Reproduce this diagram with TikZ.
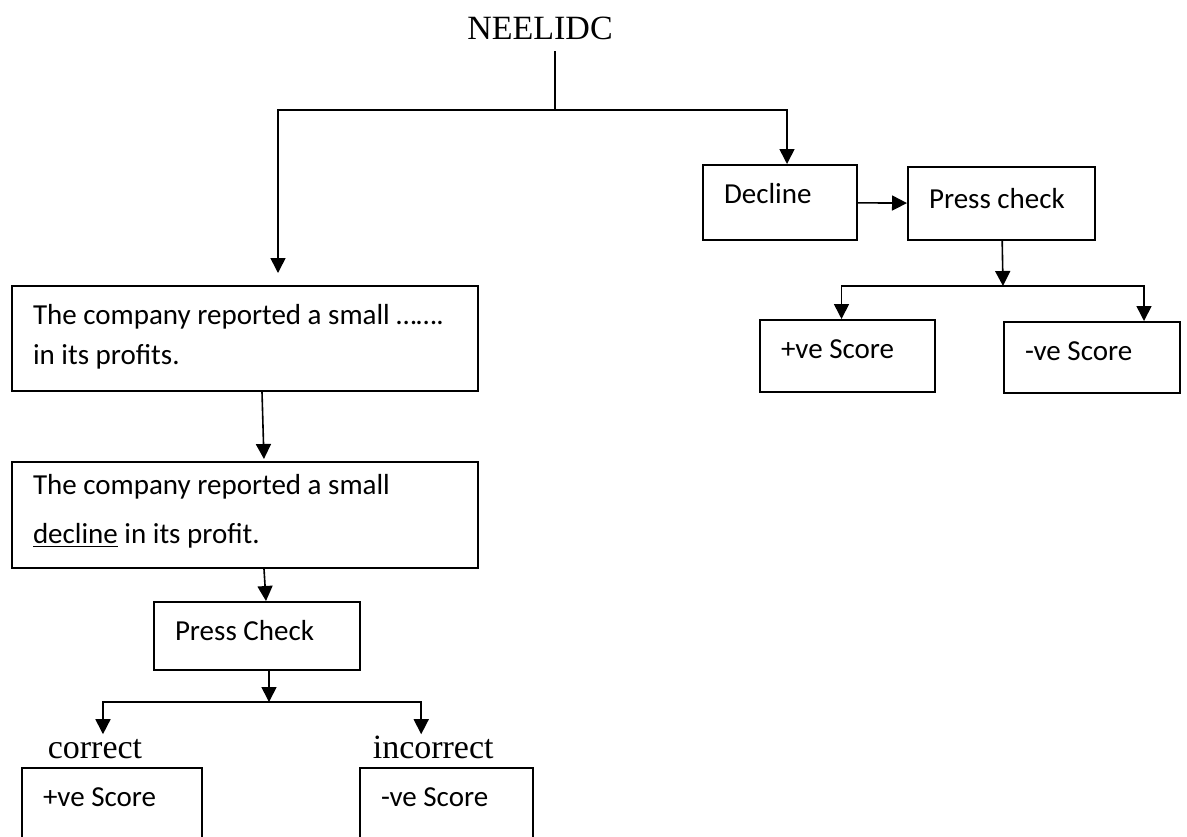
\documentclass[tikz,border=0pt]{standalone}
\usepackage{fontspec}
\setmainfont{Liberation Serif}
\newfontfamily\calibri{Carlito}
\usetikzlibrary{
    arrows.meta,
    positioning
}

\begin{document}
\begin{tikzpicture}[x=0.5pt, y=-0.5pt, line width=0.8pt,
    >={Triangle[length=7.5pt, width=7.5pt]},
    box/.style={draw, line width=1pt, anchor=north west, align=flush left,
        inner xsep=10.5pt, inner ysep=5pt, text height=14pt,
        font=\calibri\fontsize{14.5}{20}\selectfont},
    lbl/.style={inner sep=0pt, text height=11.5pt,
        font=\fontsize{17}{20}\selectfont}]
    \clip (0,0) rectangle (1187,836);
    \node[lbl, anchor=base, inner sep=5.5pt] (root) at (540,39) {NEELIDC};
    \node[box, text width=212pt, text depth=28.5pt] (q1) at (11,285) {The company reported a small …….\\ in its profits.};
    \node[box, text width=212pt, text height=11pt, text depth=32pt] (q2) at (11,461) {The company reported a small\\[4.5pt] \underline{decline} in its profit.};
    \node[box, text width=82pt, text depth=10pt] (pc1) at (153,601) {Press Check};
    \node[box, text width=69pt, text depth=13.5pt] (p2) at (21,767) {+ve Score};
    \node[box, text width=65.5pt, text depth=13.5pt] (n2) at (359,767) {-ve Score};
    \node[lbl, anchor=base west] (ok) at (47,758) {correct};
    \node[lbl, anchor=base west] (bad) at (372,758) {incorrect};
    \node[box, text width=56pt, text depth=13.5pt] (dec) at (702,164) {Decline};
    \node[box, text width=72.5pt, text height=15.5pt, text depth=11pt] (pc2) at (907,166) {Press check};
    \node[box, text width=66.5pt, text depth=12pt] (p1) at (759,319) {+ve Score};
    \node[box, text width=67pt, text depth=11.5pt] (n1) at (1003,321) {-ve Score};
    \coordinate (f0) at (555,110);
    \coordinate (f1) at (1003,286);
    \coordinate (f2) at (269,702);
    % root fork
    \draw (root.south -| f0) -- (f0);
    \draw[->, shorten >=6pt] (f0) -| ([xshift=16.5pt]q1.north);
    \draw[->] (f0) -| ([xshift=3.5pt]dec.north);
    % right branch
    \draw[->] (dec) -- (pc2);
    \draw[->] (pc2) -- (f1);
    \draw[->] (f1) -| ([xshift=-3pt]p1.north);
    \draw[->] (f1) -| ([xshift=26pt]n1.north);
    % left branch
    \draw[->, shorten >=1pt] ([xshift=8.5pt]q1.south) -- ([xshift=9.5pt]q2.north);
    \draw[->] ([xshift=9.5pt]q2.south) -- ([xshift=4.5pt]pc1.north);
    \draw[->] ([xshift=6pt]pc1.south) -- (f2);
    \draw[->] (f2) -| ([xshift=4pt]ok.north);
    \draw[->] (f2) -| ([xshift=-6pt]bad.north);
\end{tikzpicture}
\end{document}
